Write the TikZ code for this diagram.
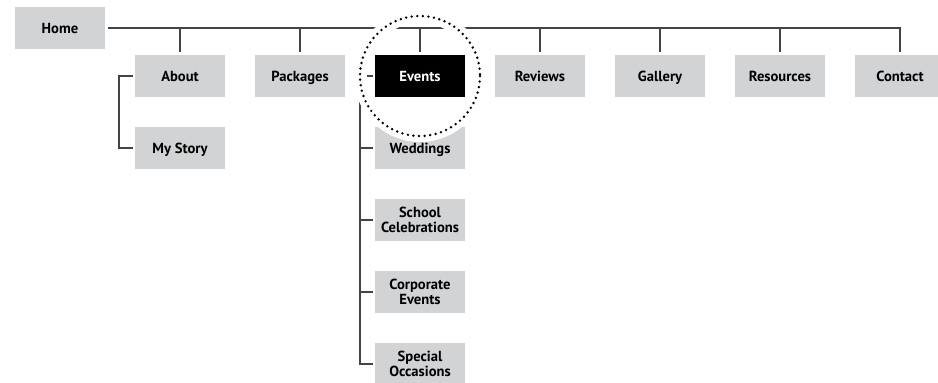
\documentclass[tikz,border=0pt]{standalone}
\usepackage{fontspec}
\setmainfont{PT Sans}
\definecolor{boxgray}{RGB}{210,211,213}
\definecolor{linegray}{RGB}{68,68,68}
\begin{document}
\begin{tikzpicture}[x=1pt,y=-1pt,
  pg/.style={fill=boxgray, minimum width=90pt, minimum height=42pt, inner sep=0pt,
    font=\bfseries\fontsize{14.6}{15}\selectfont, align=center, text=black},
  pg1/.style={pg, text depth=0pt, text height=10.5pt},
  cur/.style={pg1, fill=black, text=white},
  conn/.style={draw=linegray, line width=1.6pt}]
\useasboundingbox (0,0) rectangle (938,383);
% nodes
\node[pg1] (home) at (60,28) {Home};
\node[pg1] (about) at (180,76) {About};
\node[pg1] (packages) at (300,76) {Packages};
\node[pg1] (reviews) at (540,76) {Reviews};
\node[pg1] (gallery) at (660,76) {Gallery};
\node[pg1] (resources) at (780,76) {Resources};
\node[pg1] (contact) at (900,76) {Contact};
\node[pg1] (mystory) at (180,148) {My Story};
\node[pg1] (wed) at (420,148) {Weddings};
\node[pg] (school) at (420,220) {School\\Celebrations};
\node[pg] (corp) at (420,292) {Corporate\\Events};
\node[pg] (special) at (420,364) {Special\\Occasions};
\coordinate (ev) at (420,76);
% top line and ticks
\draw[conn] ([xshift=3pt]home.east) -- (contact.north |- home.east) -- ([yshift=3pt]contact.north);
\foreach \n in {about,packages,reviews,gallery,resources}
  \draw[conn] (\n.north |- home.east) -- ([yshift=3pt]\n.north);
\draw[conn] (ev |- home.east) -- ([yshift=24pt]ev);
% about bracket
\draw[conn] ([xshift=-2pt]about.west) -- ++(-14,0) |- ([xshift=-2pt]mystory.west);
% events bracket
\draw[conn] ([xshift=-48pt]ev) -| ([xshift=-15pt]special.west) -- ([xshift=-2pt]special.west);
\foreach \n in {wed,school,corp}
  \draw[conn] ([xshift=-15pt]\n.west) -- ([xshift=-2pt]\n.west);
% highlight circle
\fill[white] (ev) circle[radius=66];
\draw[black, line width=2.7pt, line cap=round, dash pattern=on 0pt off 5.6pt] (ev) circle[radius=60];
\begin{scope}
  \clip (ev) circle[radius=53];
  \draw[conn] ([xshift=3pt]home.east) -- (contact.north |- home.east);
  \draw[conn] (ev |- home.east) -- ([yshift=24pt]ev);
  \draw[conn] ([xshift=-47pt]ev) -- ([xshift=-62pt]ev);
\end{scope}
\node[cur] (events) at (ev) {Events};
\end{tikzpicture}
\end{document}
